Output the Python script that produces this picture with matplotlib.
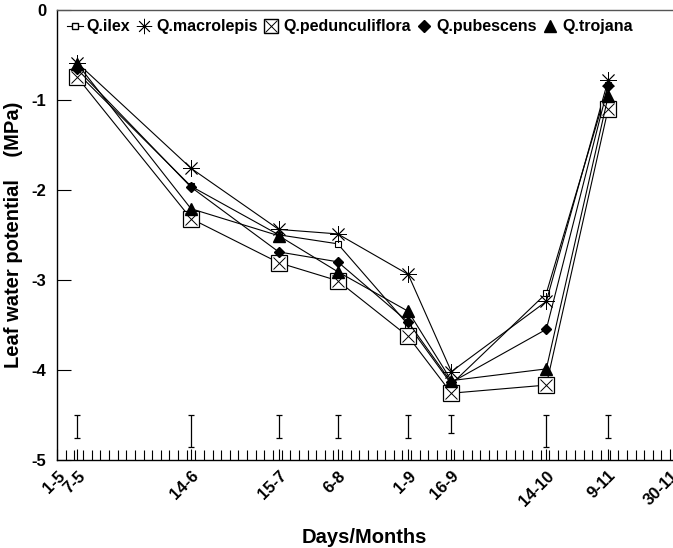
import matplotlib
matplotlib.use("Agg")
import matplotlib.pyplot as plt
from matplotlib.lines import Line2D
from matplotlib.legend_handler import HandlerTuple
import numpy as np

plt.rcParams['font.family'] = ['Liberation Sans', 'DejaVu Sans']
plt.rcParams['font.weight'] = 'bold'

# x positions: days after 1 May
tick_pos = [0, 7, 46.5, 77, 97.5, 122, 137, 170, 191.5, 213]
tick_labels = ['1-5', '7-5', '14-6', '15-7', '6-8', '1-9', '16-9', '14-10', '9-11', '30-11']

sample_days = [7, 46.5, 77, 97.5, 122, 137, 170, 191.5]

ilex = [-0.70, -1.96, -2.50, -2.60, -3.50, -4.16, -3.15, -0.84]
macrolepis = [-0.59, -1.76, -2.44, -2.49, -2.94, -4.02, -3.24, -0.78]
pedunculiflora = [-0.75, -2.32, -2.81, -3.01, -3.63, -4.26, -4.17, -1.10]
pubescens = [-0.66, -1.97, -2.69, -2.80, -3.47, -4.14, -3.55, -0.85]
trojana = [-0.60, -2.21, -2.51, -2.91, -3.35, -4.12, -3.99, -0.96]

lsd_top = [-4.50, -4.50, -4.50, -4.50, -4.50, -4.50, -4.50, -4.50]
lsd_bottom = [-4.76, -4.86, -4.76, -4.76, -4.76, -4.70, -4.86, -4.76]

fig = plt.figure(figsize=(6.73, 5.48), dpi=100)
ax = fig.add_axes([0.085, 0.161, 0.914, 0.821])

lw = 0.8
ax.plot(sample_days, ilex, '-', color='black', lw=lw, marker='s', ms=4,
        mfc='white', mec='black', mew=0.8, zorder=3)
ax.plot(sample_days, macrolepis, '-', color='black', lw=lw, marker=(8, 2, 0), ms=12,
        mec='black', mew=0.6, zorder=3)
ax.plot(sample_days, pedunculiflora, '-', color='black', lw=lw, marker='s', ms=11,
        mfc='white', mec='black', mew=0.9, zorder=3)
ax.plot(sample_days, pedunculiflora, linestyle='none', marker='x', ms=9,
        mec='black', mew=0.7, zorder=4)
ax.plot(sample_days, pubescens, '-', color='black', lw=lw, marker='D', ms=5,
        mfc='black', mec='black', zorder=3)
ax.plot(sample_days, trojana, '-', color='black', lw=lw, marker='^', ms=9,
        mfc='black', mec='black', zorder=3)

lsd_center = [(a + b) / 2 for a, b in zip(lsd_top, lsd_bottom)]
lsd_half = [(a - b) / 2 for a, b in zip(lsd_top, lsd_bottom)]
ax.errorbar(sample_days, lsd_center, yerr=lsd_half, fmt='none', ecolor='black',
            elinewidth=0.9, capsize=2, capthick=0.9)

ax.set_xlim(0, 213.8)
ax.set_ylim(-5, 0)
ax.set_yticks([0, -1, -2, -3, -4, -5])
ax.set_yticklabels(['0', '-1', '-2', '-3', '-4', '-5'], fontsize=12, fontweight='bold')
ax.set_xticks(tick_pos)
ax.set_xticklabels(tick_labels, rotation=45, ha='right', rotation_mode='anchor',
                   fontsize=12, fontweight='bold')
ax.set_xticks(np.arange(0, 214, 3), minor=True)
ax.tick_params(axis='x', which='major', direction='in', length=8, width=0.8, pad=6)
ax.tick_params(axis='x', which='minor', direction='in', length=7, width=0.8)
ax.tick_params(axis='y', which='major', direction='in', length=10, width=0.8, pad=8)

ax.spines['right'].set_visible(False)
for s in ['left', 'bottom', 'top']:
    ax.spines[s].set_linewidth(1.0)
ax.spines['top'].set_color('#555555')

ax.set_ylabel('Leaf water potential    (MPa)', fontsize=14.5, fontweight='bold', labelpad=6)
ax.set_xlabel('Days/Months', fontsize=14.5, fontweight='bold', labelpad=14)

h_ilex = Line2D([], [], color='black', lw=lw, marker='s', ms=4, mfc='white', mec='black')
h_mac = Line2D([], [], color='black', lw=0, marker=(8, 2, 0), ms=11, mec='black', mew=0.6)
h_ped1 = Line2D([], [], lw=0, marker='s', ms=10, mfc='white', mec='black')
h_ped2 = Line2D([], [], lw=0, marker='x', ms=8, mec='black', mew=0.7)
h_pub = Line2D([], [], lw=0, marker='D', ms=6, mfc='black', mec='black')
h_tro = Line2D([], [], lw=0, marker='^', ms=9, mfc='black', mec='black')
ax.legend([h_ilex, h_mac, (h_ped1, h_ped2), h_pub, h_tro],
          ['Q.ilex', 'Q.macrolepis', 'Q.pedunculiflora', 'Q.pubescens', 'Q.trojana'],
          handler_map={tuple: HandlerTuple(ndivide=1, pad=0)},
          loc='upper left', bbox_to_anchor=(0.0, 1.0), ncol=5, frameon=False,
          handlelength=1.0, handletextpad=0.25, columnspacing=0.35,
          prop={'weight': 'bold', 'size': 11.5}, borderaxespad=0.2)

fig.savefig('out.png', dpi=100)
